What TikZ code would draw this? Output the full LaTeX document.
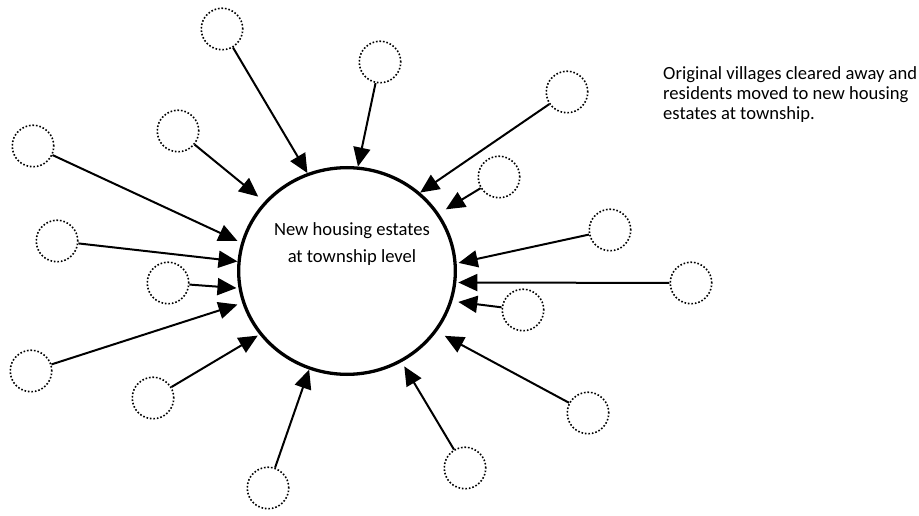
\documentclass[tikz,border=0pt]{standalone}
\usepackage{fontspec}
\setmainfont{Carlito}
\usetikzlibrary{arrows.meta,shapes.geometric}

\tikzset{
  village/.style={circle, draw, line width=1.6pt, dash pattern=on 1.6pt off 1.9pt,
                  minimum size=41.5pt, inner sep=0pt},
  township/.style={ellipse, draw, line width=3.3pt, minimum width=216.7pt,
                   minimum height=206.7pt, inner sep=0pt},
  moveline/.style={line width=2pt, -{Triangle[length=19pt,width=17pt]}},
}

\begin{document}
\begin{tikzpicture}[x=1pt,y=-1pt]%{{{
\useasboundingbox (0,0) rectangle (919,516);
%
% Township
\node [township] (hub) at (347,271) {};
\node [align=center, anchor=base, font=\fontsize{18.6}{27}\selectfont]
      (hubtext) at (352,262) {New housing estates\\at township level};
%
% Villages
\foreach \v/\x/\y in {vA/222/29, vB/178/131, vC/33/146, vD/57/241,
                      vE/168/283, vF/31/371, vG/153/398, vH/268/488,
                      vL/380/62, vI/567/92, vJ/499/177, vK/610/230,
                      vM/691/283, vN/523/310, vO/588/413, vP/465/468}
  \node [village] (\v) at (\x,\y) {};
%
% Moves to the township
\foreach \v/\a/\g in {vA/112.7/0pt, vB/140.3/8pt, vC/165.2/4pt, vD/175.8/0pt,
                      vE/189.3/2pt, vF/197.2/5pt, vG/216.9/2pt, vH/249.5/0pt,
                      vL/84/0pt, vI/47.3/0pt, vJ/32.7/8pt, vK/4.6/2pt,
                      vM/-6.7/2pt, vN/-16.6/6pt, vO/-34.2/9pt, vP/-59.7/5pt}
  \draw [moveline, shorten >=\g] (\v) -- (hub.\a);
%
% Note
\node [align=left, anchor=base west, inner sep=0pt, font=\fontsize{18.6}{20}\selectfont]
      (note) at (663,120) {Original villages cleared away and\\residents moved to new housing\\estates at township.};
%
\end{tikzpicture}
\end{document}
